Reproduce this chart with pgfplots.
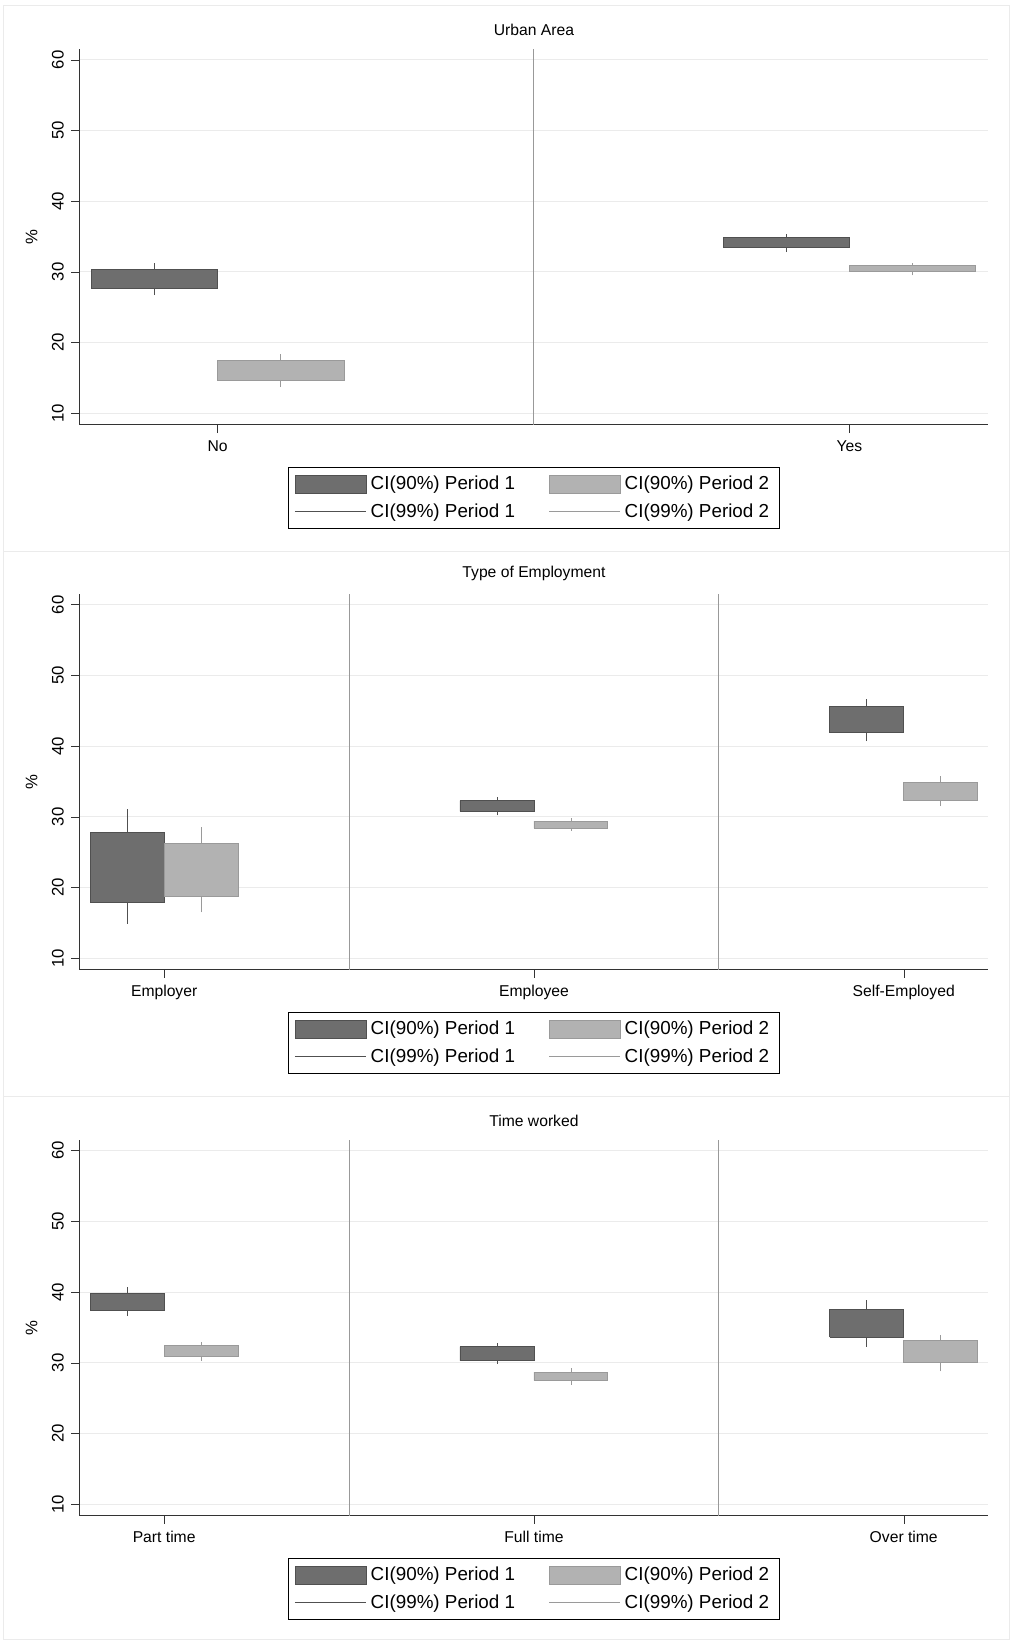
\documentclass[border=0pt]{standalone}
\usepackage{pgfplots}
\pgfplotsset{compat=1.18}
\usepackage{fontspec}
\setmainfont{Liberation Sans}
\definecolor{pa}{HTML}{6E6E6E}
\definecolor{pae}{HTML}{505050}
\definecolor{pb}{HTML}{B2B2B2}
\definecolor{pbe}{HTML}{9A9A9A}
\newcommand\ci[8]{%
 \addplot[#8e, forget plot] coordinates {(#2,#6) (#2,#7)};
 \addplot[fill=#8, draw=#8e, forget plot] coordinates {(#1,#4) (#3,#4) (#3,#5) (#1,#5) (#1,#4)};
}
\pgfplotsset{panel/.style={
 scale only axis, width=434.5pt, height=179.5pt, anchor=south west,
 ymin=8.4, ymax=61.5, ytick={10,20,30,40,50,60},
 /pgf/number format/assume math mode=true,
 axis lines=left, axis line style={-, black!80},
 tick style={black!80}, tick align=outside, major tick length=4pt,
 ymajorgrids, grid style={black!8},
 yticklabel style={rotate=90, font=\fontsize{8}{9}\selectfont},
 xticklabel style={font=\fontsize{7.5}{9}\selectfont},
 ylabel={\%}, ylabel style={font=\fontsize{8}{9}\selectfont, rotate=0},
 title style={font=\fontsize{7.5}{9}\selectfont, yshift=-3pt},
 xtick=data,
 legend columns=2,
 legend style={at={(0.5,-0.114)}, anchor=north, font=\fontsize{9}{11}\selectfont,
   draw=black, inner xsep=3pt, inner ysep=2pt, row sep=1pt},
 legend cell align=left,
 /tikz/every even column/.style={column sep=14pt},
}}
\newcommand\legimgs{%
 \addlegendimage{legend image code/.code={\draw[fill=pa,draw=pae] (0pt,-4.2pt) rectangle (34pt,4.2pt);}}
 \addlegendimage{legend image code/.code={\draw[fill=pb,draw=pbe] (0pt,-4.2pt) rectangle (34pt,4.2pt);}}
 \addlegendimage{legend image code/.code={\draw[pae] (0pt,0pt) -- (34pt,0pt);}}
 \addlegendimage{legend image code/.code={\draw[pbe] (0pt,0pt) -- (34pt,0pt);}}
 \legend{CI(90\%) Period 1, CI(90\%) Period 2, CI(99\%) Period 1, CI(99\%) Period 2}
}
\begin{document}
\begin{tikzpicture}
\path[use as bounding box] (0pt,0pt) rectangle (485pt,-784pt);
\draw[black!8] (1.5pt,-2.5pt) rectangle (482.5pt,-263.5pt);
\draw[black!8] (1.5pt,-263.5pt) rectangle (482.5pt,-524pt);
\draw[black!8] (1.5pt,-524pt) rectangle (482.5pt,-783.5pt);
% Panel 1
\begin{axis}[panel, at={(38pt,-203pt)}, title={Urban Area},
 xmin=-0.2185, xmax=1.22, xtick={0,1}, xticklabels={No,Yes}]
\legimgs
\addplot[black!40, forget plot] coordinates {(0.5,8.4) (0.5,61.5)};
\ci{-0.2}{-0.1}{0}{27.6}{30.3}{26.7}{31.2}{pa}
\ci{0}{0.1}{0.2}{14.6}{17.5}{13.7}{18.4}{pb}
\ci{0.8}{0.9}{1}{33.4}{34.9}{32.8}{35.4}{pa}
\ci{1}{1.1}{1.2}{30.0}{30.9}{29.5}{31.3}{pb}
\end{axis}
% Panel 2
\begin{axis}[panel, at={(38pt,-463.5pt)}, title={Type of Employment},
 xmin=-0.229, xmax=2.229, xtick={0,1,2}, xticklabels={Employer,Employee,Self-Employed}]
\legimgs
\addplot[black!40, forget plot] coordinates {(0.5,8.4) (0.5,61.5)};
\addplot[black!40, forget plot] coordinates {(1.5,8.4) (1.5,61.5)};
\ci{-0.2}{-0.1}{0}{17.9}{27.8}{14.9}{31.1}{pa}
\ci{0}{0.1}{0.2}{18.8}{26.2}{16.5}{28.5}{pb}
\ci{0.8}{0.9}{1}{30.8}{32.3}{30.2}{32.8}{pa}
\ci{1}{1.1}{1.2}{28.4}{29.4}{28.0}{29.9}{pb}
\ci{1.8}{1.9}{2}{41.9}{45.6}{40.7}{46.6}{pa}
\ci{2}{2.1}{2.2}{32.3}{34.9}{31.5}{35.8}{pb}
\end{axis}
% Panel 3
\begin{axis}[panel, at={(38pt,-724.5pt)}, title={Time worked},
 xmin=-0.229, xmax=2.229, xtick={0,1,2}, xticklabels={Part time,Full time,Over time}]
\legimgs
\addplot[black!40, forget plot] coordinates {(0.5,8.4) (0.5,61.5)};
\addplot[black!40, forget plot] coordinates {(1.5,8.4) (1.5,61.5)};
\ci{-0.2}{-0.1}{0}{37.4}{39.8}{36.6}{40.7}{pa}
\ci{0}{0.1}{0.2}{30.9}{32.4}{30.3}{33.0}{pb}
\ci{0.8}{0.9}{1}{30.3}{32.3}{29.9}{32.8}{pa}
\ci{1}{1.1}{1.2}{27.5}{28.7}{26.9}{29.3}{pb}
\ci{1.8}{1.9}{2}{33.6}{37.6}{32.3}{38.9}{pa}
\ci{2}{2.1}{2.2}{30.0}{33.1}{28.8}{34.0}{pb}
\end{axis}
\end{tikzpicture}
\end{document}
